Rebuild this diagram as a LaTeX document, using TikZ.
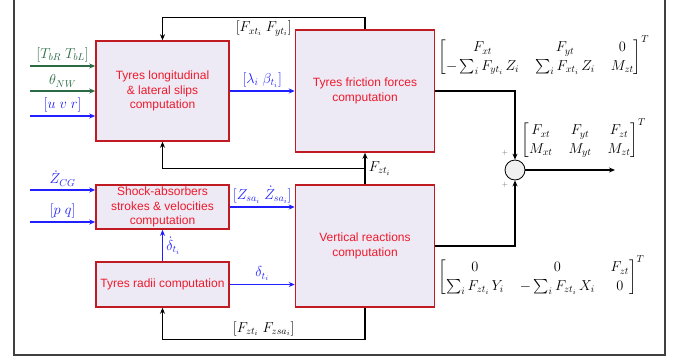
\documentclass[tikz,border=0pt]{standalone}
\usepackage{amsmath}
\usepackage{fontspec}
\setsansfont{Liberation Sans}
\usetikzlibrary{arrows.meta,positioning,calc}
\definecolor{blockfill}{HTML}{EDEAF5}
\definecolor{blockline}{HTML}{C01A22}
\definecolor{blocktext}{HTML}{EE1A2C}
\definecolor{ingreen}{HTML}{2A6B44}
\definecolor{inblue}{HTML}{1F1FFF}
\setlength{\arraycolsep}{8pt}
\renewcommand{\arraystretch}{1.1}

\begin{document}
\begin{tikzpicture}[x=1pt,y=-1pt,>={Stealth[length=6pt,width=5pt]},
  block/.style={draw=blockline,fill=blockfill,line width=1.5pt,text=blocktext,align=center,
    font=\sffamily\fontsize{12}{14.5}\selectfont,inner sep=2pt},
  sig/.style={->,line width=1.1pt},
  lbl/.style={font=\fontsize{14}{17}\selectfont}]
  \useasboundingbox (0,0) rectangle (683,360);
  % cadre
  \draw[line width=1.2pt,black!75] (14,-6) rectangle (665,355);

  % blocs
  \node[block,minimum width=133pt,minimum height=100pt] (slips) at (162.5,91) {Tyres longitudinal\\ \& lateral slips\\ computation};
  \node[block,minimum width=139pt,minimum height=122pt] (friction) at (365,91) {Tyres friction forces\\ computation};
  \node[block,minimum width=133pt,minimum height=44pt] (shock) at (162.5,207) {Shock-absorbers\\ strokes \& velocities\\ computation};
  \node[block,minimum width=133pt,minimum height=45pt] (radii) at (162.5,284.5) {Tyres radii computation};
  \node[block,minimum width=139pt,minimum height=122pt] (vertical) at (365,246) {Vertical reactions\\ computation};
  \node[circle,draw,fill=gray!12,minimum size=20pt,inner sep=0pt,line width=0.8pt] (sum) at (515,170) {};

  % entrees
  \coordinate (tb) at (30,66);
  \coordinate (nw) at (30,91);
  \coordinate (uvr) at (30,116);
  \coordinate (zcg) at (30,190);
  \coordinate (pq) at (30,222);
  \draw[sig,ingreen] (tb) -- (tb -| slips.west) node[midway,above,lbl] {$[T_{bR}\;T_{bL}]$};
  \draw[sig,ingreen] (nw) -- (nw -| slips.west) node[midway,above,lbl] {$\theta_{NW}$};
  \draw[sig,inblue] (uvr) -- (uvr -| slips.west) node[midway,above,lbl] {$[u\;v\;r]$};
  \draw[sig,inblue] (zcg) -- (zcg -| shock.west) node[midway,above,lbl] {$\dot{Z}_{CG}$};
  \draw[sig,inblue] (pq) -- (pq -| shock.west) node[midway,above,lbl] {$[p\;q]$};

  % liaisons internes
  \draw[sig,inblue] (slips.east) -- (friction.west) node[midway,above,lbl] {$[\lambda_i\;\beta_{t_i}]$};
  \draw[sig,inblue] (shock.east) -- (shock.east -| vertical.west) node[midway,above,lbl] {$[Z_{sa_i}\;\dot{Z}_{sa_i}]$};
  \draw[sig,inblue] (radii.north) -- (shock.south) node[midway,right,lbl] {$\dot{\delta}_{t_i}$};
  \draw[sig,inblue] (radii.east) -- (radii.east -| vertical.west) node[midway,above,lbl] {$\delta_{t_i}$};

  % retours
  \draw[sig] (friction.north) -- ++(0,-12) -| (slips.north) node[pos=0.25,below,lbl] {$[F_{xt_i}\;F_{yt_i}]$};
  \draw[sig] (vertical.north) -- (friction.south) node[midway,right,lbl] {$F_{zt_i}$};
  \coordinate (fzsplit) at ($(vertical.north)!0.5!(friction.south)$);
  \draw[sig] (fzsplit) -| (slips.south);
  \draw[sig] (vertical.south) -- ++(0,32) -| (radii.south) node[pos=0.25,above,lbl] {$[F_{zt_i}\;F_{zsa_i}]$};

  % sommateur
  \draw[sig] (friction.east) -| (sum.north);
  \draw[sig] (vertical.east) -| (sum.south);
  \coordinate (out) at (615,170);
  \draw[sig] (sum.east) -- (out);
  \node[font=\scriptsize,text=black!60] (plustop) at (505,153) {$+$};
  \node[font=\scriptsize,text=black!60] (plusbot) at (505,185) {$+$};

  % matrices
  \node[lbl,anchor=west] (mfric) at (435,56) {$\begin{bmatrix} F_{xt} & F_{yt} & 0\\ -\sum_i F_{yt_i}\,Z_i & \sum_i F_{xt_i}\,Z_i & M_{zt}\end{bmatrix}^T$};
  \node[lbl,anchor=west] (mtot) at (518,139) {$\begin{bmatrix} F_{xt} & F_{yt} & F_{zt}\\ M_{xt} & M_{yt} & M_{zt}\end{bmatrix}^T$};
  \node[lbl,anchor=west] (mvert) at (435,276) {$\begin{bmatrix} 0 & 0 & F_{zt}\\ \sum_i F_{zt_i}\,Y_i & -\sum_i F_{zt_i}\,X_i & 0\end{bmatrix}^T$};
\end{tikzpicture}
\end{document}
